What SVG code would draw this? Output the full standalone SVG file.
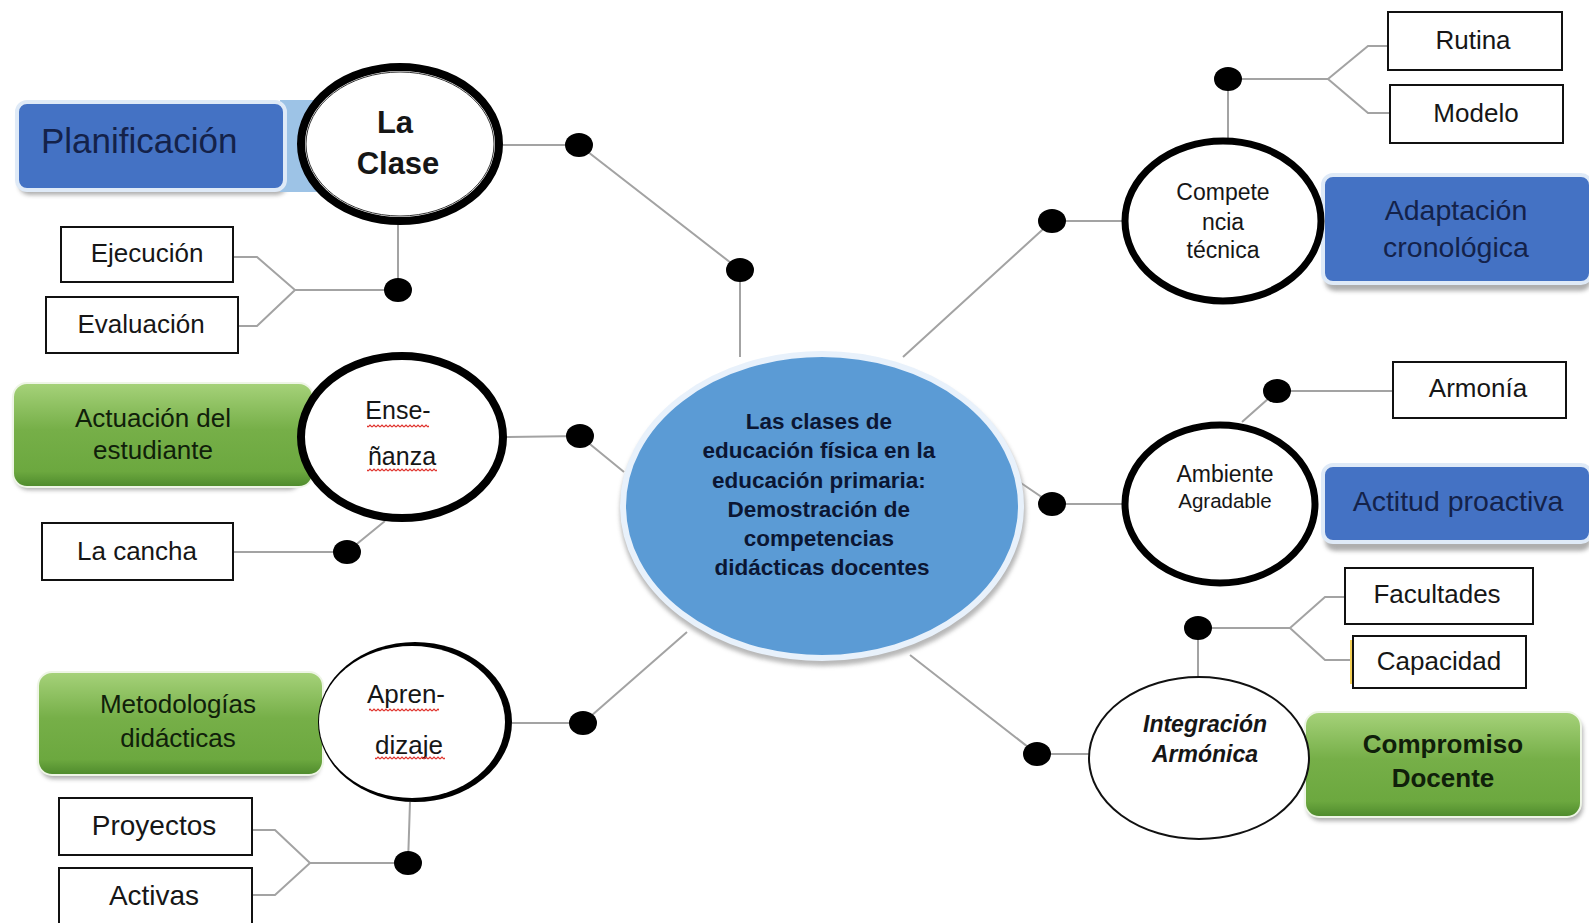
<svg xmlns="http://www.w3.org/2000/svg" width="1589" height="923" viewBox="0 0 1589 923">
<defs>
<linearGradient id="green" x1="0" y1="0" x2="0" y2="1">
<stop offset="0" stop-color="#a6d27a"/>
<stop offset="0.45" stop-color="#76af48"/>
<stop offset="0.85" stop-color="#6ca83f"/>
<stop offset="1" stop-color="#4e8a2c"/>
</linearGradient>
<pattern id="squig" x="0" y="0" width="4" height="4" patternUnits="userSpaceOnUse">
<path d="M0 3 L2 1 L4 3" fill="none" stroke="#e0302a" stroke-width="1.2"/>
</pattern>
<filter id="blur" x="-10%" y="-10%" width="120%" height="130%"><feGaussianBlur stdDeviation="2"/></filter>
</defs>
<style>
.conn{fill:none;stroke:#a3a3a3;stroke-width:2}
.dot{fill:#000}
.wbox{fill:#fff;stroke:#111;stroke-width:2}
.lbl{font-family:"Liberation Sans",Arial,sans-serif;fill:#161616;text-anchor:middle}
.blue{fill:#4472c4;stroke:#dfeaf7;stroke-width:4}
.bluetxt{font-family:"Liberation Sans",Arial,sans-serif;fill:#14224a;text-anchor:middle}
.grn{fill:url(#green);stroke:#eef5e6;stroke-width:2}
.grntxt{font-family:"Liberation Sans",Arial,sans-serif;fill:#10200a;text-anchor:middle}
.shadow{fill:#8c8c8c;opacity:0.7}
.ring{fill:#fff;stroke:#000}
</style>
<rect width="1589" height="923" fill="#fff"/>

<g id="connectors">
<polyline class="conn" points="503,145 579,145 740,270 740,357"/>
<polyline class="conn" points="398,224 398,290 295,290"/>
<polyline class="conn" points="233,257 257,257 295,290 257,326 238,326"/>
<polyline class="conn" points="505,437 580,436 624,472"/>
<polyline class="conn" points="385,521 347,552 233,552"/>
<polyline class="conn" points="512,723 583,723 687,632"/>
<polyline class="conn" points="410,802 408,863 310,863"/>
<polyline class="conn" points="252,830 275,830 310,863 275,895 252,895"/>
<polyline class="conn" points="903,357 1052,221 1123,221"/>
<polyline class="conn" points="1228,139 1228,79 1328,79"/>
<polyline class="conn" points="1388,46 1368,46 1328,79 1368,113 1390,113"/>
<polyline class="conn" points="1018,481 1052,504 1123,504"/>
<polyline class="conn" points="1242,422 1277,391 1393,391"/>
<polyline class="conn" points="910,655 1037,754 1089,754"/>
<polyline class="conn" points="1198,677 1198,628 1290,628"/>
<polyline class="conn" points="1345,597 1325,597 1290,628 1325,660 1353,660"/>
<ellipse class="dot" cx="579" cy="145" rx="14" ry="12"/>
<ellipse class="dot" cx="740" cy="270" rx="14" ry="12"/>
<ellipse class="dot" cx="398" cy="290" rx="14" ry="12"/>
<ellipse class="dot" cx="580" cy="436" rx="14" ry="12"/>
<ellipse class="dot" cx="347" cy="552" rx="14" ry="12"/>
<ellipse class="dot" cx="583" cy="723" rx="14" ry="12"/>
<ellipse class="dot" cx="408" cy="863" rx="14" ry="12"/>
<ellipse class="dot" cx="1052" cy="221" rx="14" ry="12"/>
<ellipse class="dot" cx="1228" cy="79" rx="14" ry="12"/>
<ellipse class="dot" cx="1052" cy="504" rx="14" ry="12"/>
<ellipse class="dot" cx="1277" cy="391" rx="14" ry="12"/>
<ellipse class="dot" cx="1037" cy="754" rx="14" ry="12"/>
<ellipse class="dot" cx="1198" cy="628" rx="14" ry="12"/>
</g>

<g id="center">
<ellipse cx="823" cy="511" rx="203" ry="155" fill="#9a9a9a" opacity="0.7" filter="url(#blur)"/>
<ellipse cx="822" cy="506" rx="199" ry="152" fill="#5b9bd5" stroke="#e8f1fb" stroke-width="6"/>
<text class="lbl" font-weight="bold" font-size="22.5" style="fill:#0b1633">
<tspan x="822" y="429">Las clases de</tspan>
<tspan x="822" y="458">educación física en la</tspan>
<tspan x="822" y="488">educación primaria:</tspan>
<tspan x="822" y="517">Demostración de</tspan>
<tspan x="822" y="546">competencias</tspan>
<tspan x="822" y="575">didácticas docentes</tspan>
</text>
</g>

<g id="planificacion">
<rect x="19" y="107" width="268" height="88" rx="10" class="shadow" filter="url(#blur)"/>
<rect x="280" y="100" width="40" height="92" fill="#9dc3e6"/>
<rect x="17" y="102" width="268" height="88" rx="10" class="blue"/>
<text class="bluetxt" x="41" y="153" font-size="35" style="text-anchor:start">Planificación</text>
</g>

<g id="la-clase">
<ellipse cx="400" cy="144" rx="99" ry="77" class="ring" stroke-width="8"/>
<ellipse cx="400" cy="144" rx="94" ry="72" fill="none" stroke="#333" stroke-width="1"/>
<text class="lbl" font-weight="bold" font-size="31"><tspan x="395" y="133">La</tspan><tspan x="398" y="174">Clase</tspan></text>
</g>

<g id="ejecucion"><rect x="61" y="227" width="172" height="55" class="wbox"/><text class="lbl" x="147" y="262" font-size="26">Ejecución</text></g>
<g id="evaluacion"><rect x="46" y="297" width="192" height="56" class="wbox"/><text class="lbl" x="141" y="333" font-size="26">Evaluación</text></g>

<g id="actuacion">
<rect x="15" y="388" width="287" height="102" rx="14" class="shadow" filter="url(#blur)"/>
<rect x="13" y="383" width="300" height="104" rx="14" class="grn"/>
<text class="grntxt" font-size="26"><tspan x="153" y="427">Actuación del</tspan><tspan x="153" y="459">estudiante</tspan></text>
</g>

<g id="ensenanza">
<ellipse cx="402" cy="437" rx="101" ry="81" class="ring" stroke-width="8"/>
<text class="lbl" font-size="25"><tspan x="398" y="419">Ense-</tspan><tspan x="402" y="465">ñanza</tspan></text>
<rect x="367" y="424" width="62" height="4" fill="url(#squig)"/>
<rect x="367" y="468" width="70" height="4" fill="url(#squig)"/>
</g>

<g id="la-cancha"><rect x="42" y="523" width="191" height="57" class="wbox"/><text class="lbl" x="137" y="560" font-size="26">La cancha</text></g>

<g id="metodologias">
<rect x="40" y="677" width="280" height="102" rx="14" class="shadow" filter="url(#blur)"/>
<rect x="38" y="672" width="285" height="103" rx="14" class="grn"/>
<text class="grntxt" font-size="26"><tspan x="178" y="713">Metodologías</tspan><tspan x="178" y="747">didácticas</tspan></text>
</g>

<g id="aprendizaje">
<ellipse cx="415" cy="722" rx="97" ry="80" fill="#000"/>
<ellipse cx="412" cy="722" rx="93" ry="76" fill="#fff"/>
<text class="lbl" font-size="26"><tspan x="406" y="703">Apren-</tspan><tspan x="409" y="754">dizaje</tspan></text>
<rect x="369" y="708" width="70" height="4" fill="url(#squig)"/>
<rect x="375" y="756" width="70" height="4" fill="url(#squig)"/>
</g>

<g id="proyectos"><rect x="59" y="798" width="193" height="57" class="wbox"/><text class="lbl" x="154" y="835" font-size="28">Proyectos</text></g>
<g id="activas"><rect x="59" y="868" width="193" height="62" class="wbox"/><text class="lbl" x="154" y="905" font-size="28">Activas</text></g>

<g id="rutina"><rect x="1388" y="12" width="174" height="58" class="wbox"/><text class="lbl" x="1473" y="49" font-size="26">Rutina</text></g>
<g id="modelo"><rect x="1390" y="85" width="173" height="58" class="wbox"/><text class="lbl" x="1476" y="122" font-size="26">Modelo</text></g>

<g id="adaptacion">
<rect x="1325" y="181" width="266" height="110" rx="10" class="shadow" filter="url(#blur)"/>
<rect x="1323" y="175" width="268" height="108" rx="10" class="blue"/>
<text class="bluetxt" font-size="28.5"><tspan x="1456" y="220">Adaptación</tspan><tspan x="1456" y="257">cronológica</tspan></text>
</g>

<g id="competencia">
<ellipse cx="1223" cy="221" rx="98" ry="80" class="ring" stroke-width="7"/>
<text class="lbl" font-size="23"><tspan x="1223" y="200">Compete</tspan><tspan x="1223" y="230">ncia</tspan><tspan x="1223" y="258">técnica</tspan></text>
</g>

<g id="armonia"><rect x="1393" y="362" width="173" height="56" class="wbox"/><text class="lbl" x="1478" y="397" font-size="26">Armonía</text></g>

<g id="actitud">
<rect x="1325" y="471" width="266" height="80" rx="10" class="shadow" filter="url(#blur)"/>
<rect x="1323" y="465" width="268" height="77" rx="10" class="blue"/>
<text class="bluetxt" x="1458" y="511" font-size="28.5">Actitud proactiva</text>
</g>

<g id="ambiente">
<ellipse cx="1220" cy="504" rx="95" ry="79" class="ring" stroke-width="7"/>
<text class="lbl"><tspan x="1225" y="482" font-size="23">Ambiente</tspan><tspan x="1225" y="508" font-size="20.5">Agradable</tspan></text>
</g>

<g id="facultades"><rect x="1345" y="568" width="188" height="56" class="wbox"/><text class="lbl" x="1437" y="603" font-size="26">Facultades</text></g>
<g id="capacidad"><rect x="1353" y="636" width="173" height="52" class="wbox"/><line x1="1351" y1="640" x2="1351" y2="684" stroke="#f3cf55" stroke-width="2"/><text class="lbl" x="1439" y="670" font-size="26">Capacidad</text></g>

<g id="compromiso">
<rect x="1307" y="717" width="276" height="104" rx="14" class="shadow" filter="url(#blur)"/>
<rect x="1305" y="712" width="276" height="105" rx="14" class="grn"/>
<text class="grntxt" font-size="26" font-weight="bold"><tspan x="1443" y="753">Compromiso</tspan><tspan x="1443" y="787">Docente</tspan></text>
</g>

<g id="integracion">
<ellipse cx="1199" cy="758" rx="110" ry="81" fill="#fff" stroke="#111" stroke-width="2"/>
<text class="lbl" font-size="23" font-weight="bold" font-style="italic"><tspan x="1205" y="732">Integración</tspan><tspan x="1205" y="762">Armónica</tspan></text>
</g>
</svg>
